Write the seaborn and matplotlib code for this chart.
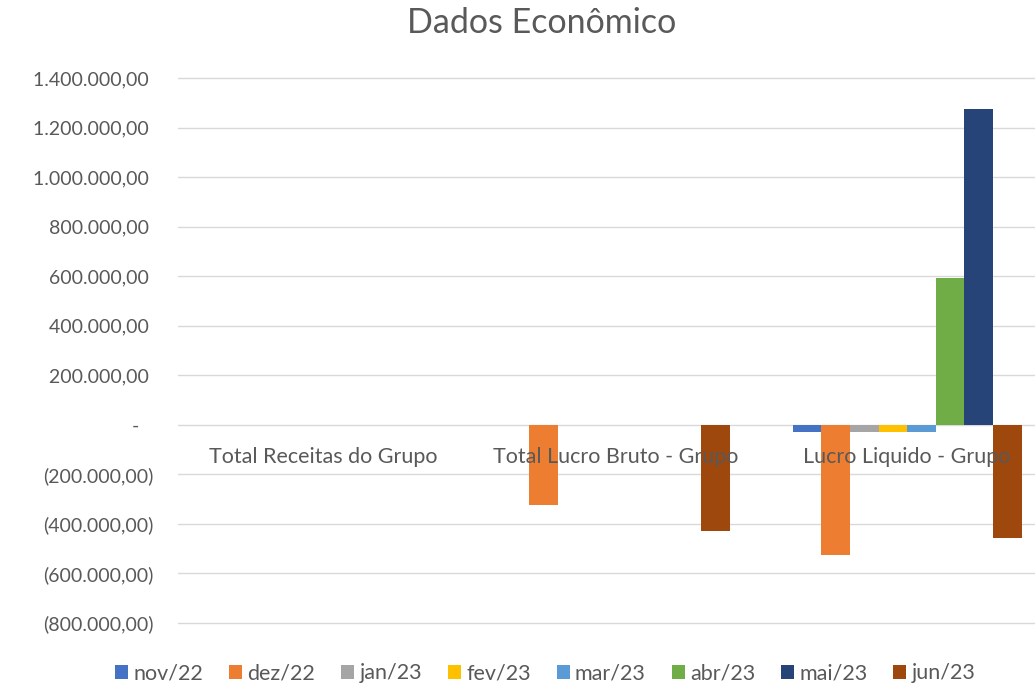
import pandas as pd
import matplotlib
matplotlib.use('Agg')
import matplotlib.pyplot as plt
import matplotlib.ticker as mticker
import matplotlib.transforms as mtransforms
import seaborn as sns

# Chart data
categorias = ['Total Receitas do Grupo', 'Total Lucro Bruto - Grupo', 'Lucro Liquido - Grupo']
meses = ['nov/22', 'dez/22', 'jan/23', 'fev/23', 'mar/23', 'abr/23', 'mai/23', 'jun/23']
receitas = [0, 0, 0, 0, 0, 0, 0, 0]
lucro_bruto = [0, -323000, 0, 0, 0, 0, 0, -427000]
lucro_liquido = [-29000, -524000, -29000, -29000, -29000, 593000, 1275000, -456000]
cores = ['#4472C4', '#ED7D31', '#A5A5A5', '#FFC000', '#5B9BD5', '#70AD47', '#264478', '#9E480E']

CINZA = '#595959'


def fmt_valor(v, pos=None):
    # Brazilian accounting style: 1.400.000,00 / (200.000,00) / -
    if abs(v) < 1e-6:
        return '-   '
    s = f"{abs(v):,.2f}".replace(',', 'X').replace('.', ',').replace('X', '.')
    return f"({s})" if v < 0 else s + ' '


rows = []
for cat, vals in zip(categorias, [receitas, lucro_bruto, lucro_liquido]):
    for mes, v in zip(meses, vals):
        rows.append({'categoria': cat, 'mes': mes, 'valor': v})
df = pd.DataFrame(rows)

sns.set_style('white')
plt.rcParams['font.family'] = ['Lato', 'DejaVu Sans']

fig = plt.figure(figsize=(10.35, 6.85), dpi=100)
ax = fig.add_axes([0.1715, 0.0905, 0.846, 0.7955])

sns.barplot(data=df, x='categoria', y='valor', hue='mes', palette=cores,
            width=0.785, ax=ax, errorbar=None, linewidth=0, saturation=1)

ax.set_ylim(-800000, 1400000)
ax.yaxis.set_major_locator(mticker.MultipleLocator(200000))
ax.yaxis.set_major_formatter(mticker.FuncFormatter(fmt_valor))
ax.grid(axis='y', color='#d9d9d9', linewidth=1)
for gl in ax.get_ygridlines():
    gl.set_clip_on(False)
ax.set_axisbelow(True)
for side in ['top', 'right', 'left', 'bottom']:
    ax.spines[side].set_visible(False)
ax.tick_params(axis='y', length=0, pad=17, labelsize=14, labelcolor=CINZA)
ax.tick_params(axis='x', length=0, labelbottom=False)
ax.set_xlabel('')
ax.set_ylabel('')

# category labels sit just under the zero line, drawn over the bars
trans = mtransforms.offset_copy(ax.transData, fig=fig, y=-32, units='dots')
for i, cat in enumerate(categorias):
    ax.text(i, 0, cat, transform=trans, ha='center', va='center',
            fontsize=15.5, color=CINZA, zorder=5)

ax.get_legend().remove()
handles, labels = ax.get_legend_handles_labels()
fig.legend(handles, labels, loc='lower center', ncol=8, bbox_to_anchor=(0.527, -0.026),
           frameon=False, fontsize=15.5, handlelength=0.6, handleheight=0.6,
           handletextpad=0.25, columnspacing=1.2, labelcolor=CINZA)

fig.suptitle('Dados Econômico', x=0.523, y=0.99, fontsize=24.5, color=CINZA)

fig.savefig('out.png', dpi=100)
